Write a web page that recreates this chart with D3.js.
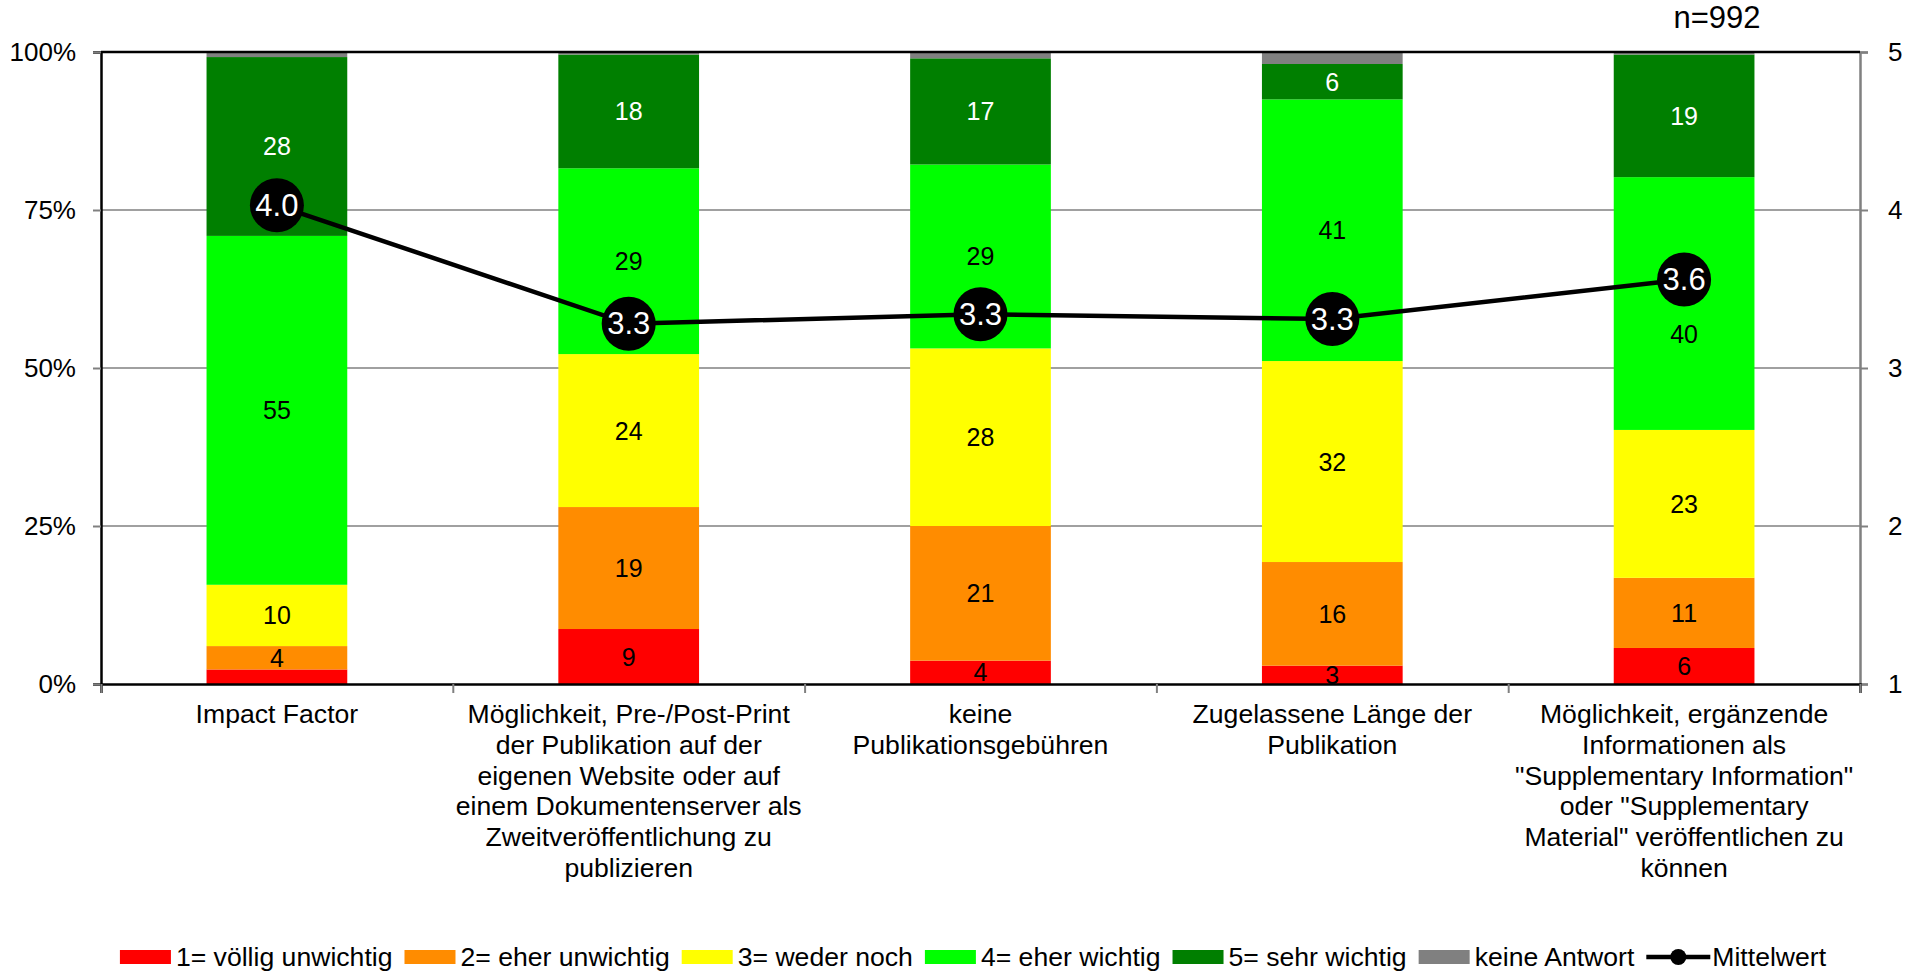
<!DOCTYPE html>
<html>
<head>
<meta charset="utf-8">
<script src="https://cdn.jsdelivr.net/npm/d3@7"></script>
<style>
  body { margin: 0; background: #fff; }
  svg { font-family: "Liberation Sans", Arial, sans-serif; }
</style>
</head>
<body>
<svg id="chart" width="1923" height="971"></svg>
<script>
// categories (line breaks as in the original)
const categories = [
  "Impact Factor",
  "Möglichkeit, Pre-/Post-Print\nder Publikation auf der\neigenen Website oder auf\neinem Dokumentenserver als\nZweitveröffentlichung zu\npublizieren",
  "keine\nPublikationsgebühren",
  "Zugelassene Länge der\nPublikation",
  "Möglichkeit, ergänzende\nInformationen als\n\"Supplementary Information\"\noder \"Supplementary\nMaterial\" veröffentlichen zu\nkönnen"
];

// percentages per answer
const voelligUnwichtig = [2.3, 8.7, 3.7, 2.9, 5.7];
const eherUnwichtig    = [3.7, 19.3, 21.3, 16.4, 11.1];
const wederNoch        = [9.7, 24.2, 28.1, 31.8, 23.4];
const eherWichtig      = [55.2, 29.4, 29.1, 41.4, 40.0];
const sehrWichtig      = [28.3, 18.0, 16.8, 5.6, 19.4];
const keineAntwort     = [0.8, 0.4, 1.0, 1.9, 0.4];

// mean value (1..5)
const mittelwert = [4.03, 3.28, 3.34, 3.31, 3.56];

const seriesNames = ["1= völlig unwichtig", "2= eher unwichtig", "3= weder noch", "4= eher wichtig", "5= sehr wichtig", "keine Antwort"];
const seriesColors = ["#ff0000", "#ff8c00", "#ffff00", "#00ff00", "#007f00", "#808080"];
const labelColors = ["#000", "#000", "#000", "#000", "#fff", null];
const leftTicks = [0, 25, 50, 75, 100];
const rightTicks = [1, 2, 3, 4, 5];

const allSeries = [voelligUnwichtig, eherUnwichtig, wederNoch, eherWichtig, sehrWichtig, keineAntwort];

let svg = d3.select("#chart");

const plotLeft = 101, plotRight = 1860, plotTop = 52, plotBottom = 684;

let rows = categories.map((c, i) => {
  let r = { cat: c };
  seriesNames.forEach((s, j) => { r[s] = allSeries[j][i]; });
  return r;
});

let x = d3.scaleBand().domain(categories).range([plotLeft, plotRight]).paddingInner(0.6).paddingOuter(0.3);
let y = d3.scaleLinear().domain([0, 100]).range([plotBottom, plotTop]);
let y2 = d3.scaleLinear().domain([1, 5]).range([plotBottom, plotTop]);
let xEdges = d3.scaleLinear().domain([0, categories.length]).range([plotLeft, plotRight]);

// gridlines
svg.append("g").selectAll("line")
  .data([25, 50, 75])
  .enter().append("line")
  .attr("x1", plotLeft).attr("x2", plotRight)
  .attr("y1", d => y(d)).attr("y2", d => y(d))
  .attr("stroke", "#808080").attr("stroke-width", 1.3);

// stacked bars
let stacked = d3.stack().keys(seriesNames)(rows);

let layers = svg.append("g").selectAll("g")
  .data(stacked)
  .enter().append("g")
  .attr("fill", (d, i) => seriesColors[i]);

layers.selectAll("rect")
  .data(d => d)
  .enter().append("rect")
  .attr("x", d => x(d.data.cat))
  .attr("width", x.bandwidth())
  .attr("y", d => y(d[1]))
  .attr("height", d => y(d[0]) - y(d[1]));

// axes
let leftAxis = svg.append("g")
  .attr("transform", `translate(${plotLeft},0)`)
  .call(d3.axisLeft(y).tickValues(leftTicks).tickSize(8).tickPadding(17).tickFormat(d => d + "%"));
leftAxis.select(".domain").attr("stroke", "#000").attr("stroke-width", 2.5);

let rightAxis = svg.append("g")
  .attr("transform", `translate(${plotRight},0)`)
  .call(d3.axisRight(y2).tickValues(rightTicks).tickSize(8).tickPadding(20).tickFormat(d3.format("d")));
rightAxis.select(".domain").attr("stroke", "#808080").attr("stroke-width", 2.5);

let bottomAxis = svg.append("g")
  .attr("transform", `translate(0,${plotBottom})`)
  .call(d3.axisBottom(xEdges).ticks(categories.length).tickSize(9).tickFormat(""));
bottomAxis.select(".domain").attr("stroke", "#000").attr("stroke-width", 2.5);

[leftAxis, rightAxis, bottomAxis].forEach(a => {
  a.selectAll(".tick line").attr("stroke", "#808080").attr("stroke-width", 2);
  a.selectAll(".tick text").attr("font-size", 26).attr("fill", "#000");
  a.attr("font-family", null);
});

// top border
svg.append("line")
  .attr("x1", plotLeft).attr("x2", plotRight)
  .attr("y1", plotTop).attr("y2", plotTop)
  .attr("stroke", "#000").attr("stroke-width", 2.5);

// category labels
let catLabels = svg.append("g").selectAll("text")
  .data(categories)
  .enter().append("text")
  .attr("text-anchor", "middle")
  .attr("font-size", 26.6)
  .attr("x", d => x(d) + x.bandwidth() / 2)
  .attr("y", 723);

catLabels.selectAll("tspan")
  .data(d => d.split("\n"))
  .enter().append("tspan")
  .attr("x", function () { return d3.select(this.parentNode).attr("x"); })
  .attr("dy", (d, i) => i === 0 ? 0 : 30.8)
  .text(d => d);

// value labels
stacked.forEach((layer, j) => {
  if (!labelColors[j]) return;
  svg.append("g").selectAll("text")
    .data(layer.filter(d => Math.round(d[1] - d[0]) >= 3))
    .enter().append("text")
    .attr("text-anchor", "middle")
    .attr("dominant-baseline", "central")
    .attr("font-size", 25)
    .attr("fill", labelColors[j])
    .attr("x", d => x(d.data.cat) + x.bandwidth() / 2)
    .attr("y", d => {
      let cy = y((d[0] + d[1]) / 2);
      let i = categories.indexOf(d.data.cat);
      let my = y2(mittelwert[i]);
      // keep the label clear of the mean marker
      if (Math.abs(cy - my) < 40) cy = my + 54;
      return cy;
    })
    .text(d => Math.round(d[1] - d[0]));
});

// mean line
let line = d3.line()
  .x((d, i) => x(categories[i]) + x.bandwidth() / 2)
  .y(d => y2(d));

svg.append("path")
  .datum(mittelwert)
  .attr("d", line)
  .attr("fill", "none")
  .attr("stroke", "#000")
  .attr("stroke-width", 4.5);

let points = svg.append("g").selectAll("g")
  .data(mittelwert)
  .enter().append("g")
  .attr("transform", (d, i) => `translate(${x(categories[i]) + x.bandwidth() / 2},${y2(d)})`);

points.append("circle").attr("r", 27).attr("fill", "#000");
points.append("text")
  .attr("text-anchor", "middle")
  .attr("dominant-baseline", "central")
  .attr("font-size", 31)
  .attr("fill", "#fff")
  .text(d => d3.format(".1f")(d));

// n
svg.append("text")
  .attr("x", 1717).attr("y", 28)
  .attr("text-anchor", "middle")
  .attr("font-size", 31)
  .text("n=992");

// legend
let legend = svg.append("g");
let lx = 0;
const ly = 957;
seriesNames.forEach((s, i) => {
  legend.append("rect")
    .attr("x", lx).attr("y", ly - 7)
    .attr("width", 51).attr("height", 14)
    .attr("fill", seriesColors[i]);
  let t = legend.append("text")
    .attr("x", lx + 56).attr("y", ly)
    .attr("dominant-baseline", "central")
    .attr("font-size", 26.6)
    .text(s);
  lx += 56 + t.node().getComputedTextLength() + 12;
});
legend.append("line")
  .attr("x1", lx).attr("x2", lx + 64)
  .attr("y1", ly).attr("y2", ly)
  .attr("stroke", "#000").attr("stroke-width", 4.5);
legend.append("circle")
  .attr("cx", lx + 32).attr("cy", ly).attr("r", 8).attr("fill", "#000");
let mt = legend.append("text")
  .attr("x", lx + 66).attr("y", ly)
  .attr("dominant-baseline", "central")
  .attr("font-size", 26.6)
  .text("Mittelwert");
let legendWidth = lx + 66 + mt.node().getComputedTextLength();
legend.attr("transform", `translate(${973 - legendWidth / 2},0)`);
</script>
</body>
</html>
